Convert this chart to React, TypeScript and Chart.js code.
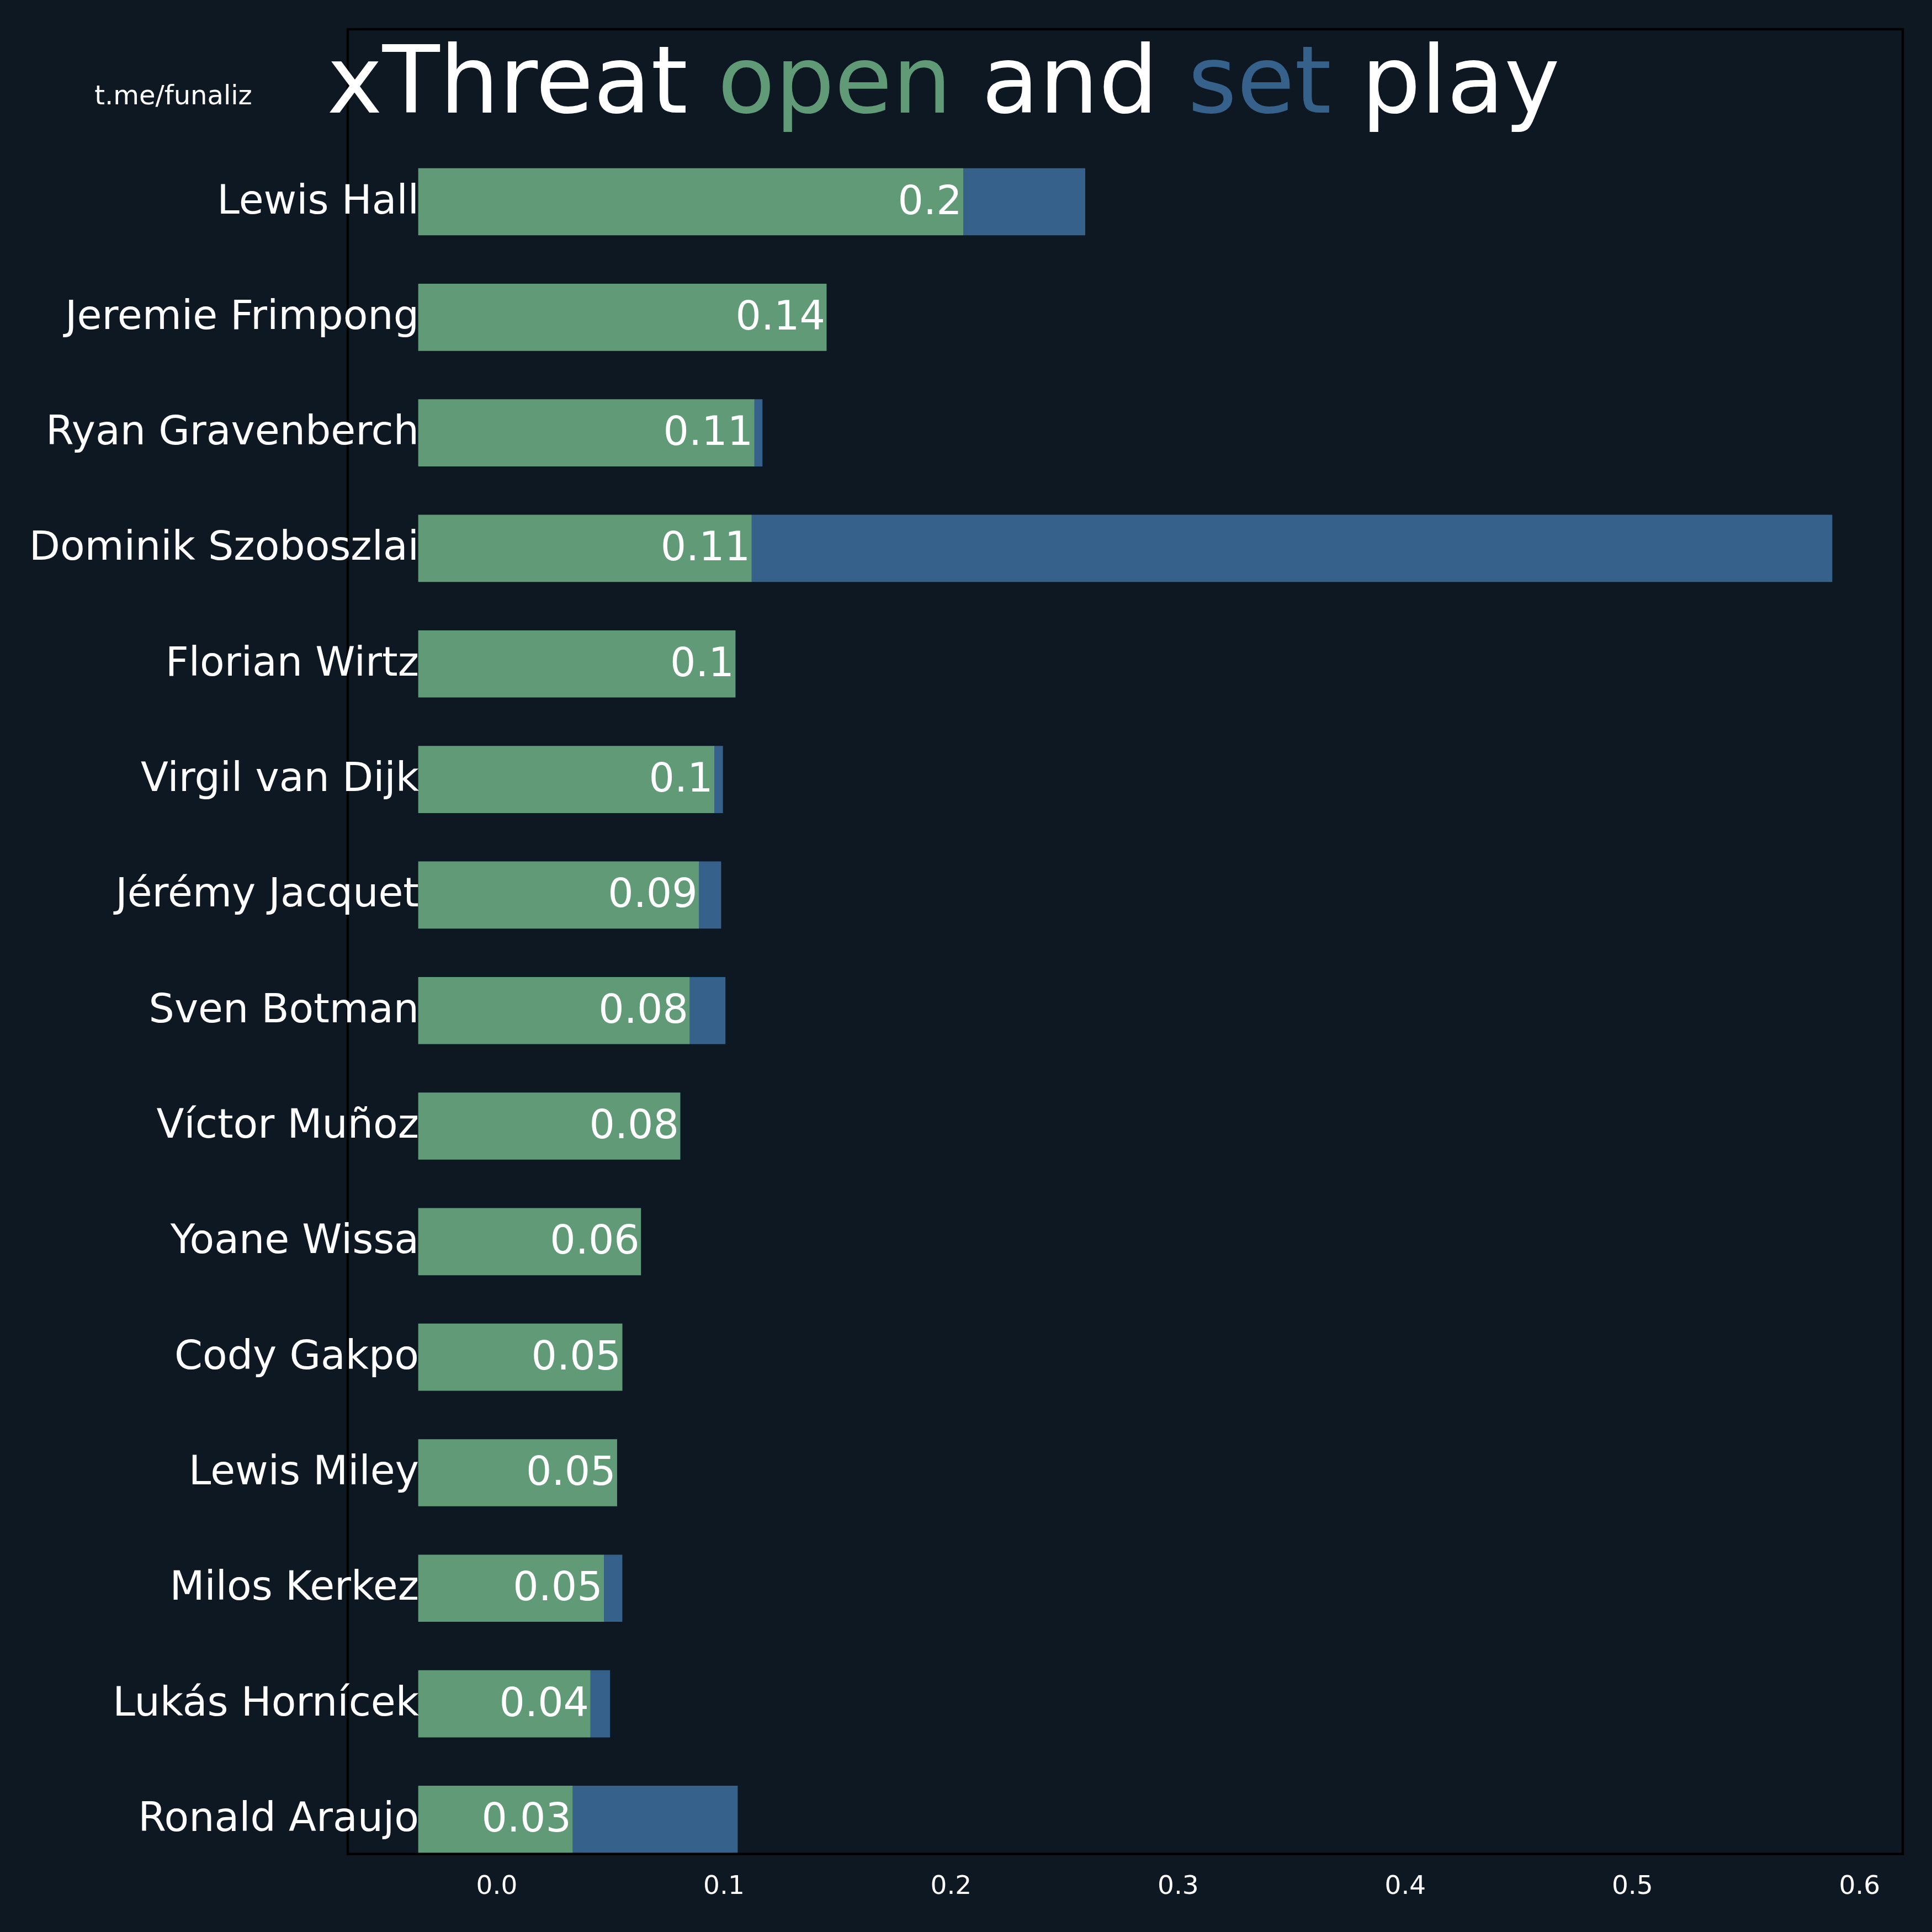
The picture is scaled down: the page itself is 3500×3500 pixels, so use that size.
import React, { useEffect, useRef } from 'react';
import { Chart, BarController, BarElement, LinearScale } from 'chart.js';

Chart.register(BarController, BarElement, LinearScale);

const players = [
  'Lewis Hall', 'Jeremie Frimpong', 'Ryan Gravenberch', 'Dominik Szoboszlai', 'Florian Wirtz',
  'Virgil van Dijk', 'Jérémy Jacquet', 'Sven Botman', 'Víctor Muñoz', 'Yoane Wissa',
  'Cody Gakpo', 'Lewis Miley', 'Milos Kerkez', 'Lukás Hornícek', 'Ronald Araujo',
];
const openPlay = [0.2053, 0.1451, 0.1133, 0.1121, 0.105, 0.0957, 0.0889, 0.0848, 0.0807, 0.0634, 0.0552, 0.0529, 0.0471, 0.0411, 0.0333];
const setPlay = [0.0537, 0, 0.0036, 0.4758, 0, 0.0038, 0.0098, 0.0158, 0, 0, 0, 0, 0.0081, 0.0087, 0.0727];
const openLabels = ['0.2', '0.14', '0.11', '0.11', '0.1', '0.1', '0.09', '0.08', '0.08', '0.06', '0.05', '0.05', '0.05', '0.04', '0.03'];
const xTicks = [0, 0.1, 0.2, 0.3, 0.4, 0.5, 0.6];

const BAR_START = -0.0345; // bars begin a bit left of the 0.0 tick in the original
const BG = '#0e1822';
const GREEN = '#619a76';
const BLUE = '#36618a';
const FONT = '"DejaVu Sans", sans-serif';

const titleParts: [string, string][] = [
  ['xThreat ', '#ffffff'],
  ['open', GREEN],
  [' and ', '#ffffff'],
  ['set', BLUE],
  [' play', '#ffffff'],
];

const overlay = {
  id: 'overlay',
  afterDatasetsDraw(chart: any) {
    const { ctx, chartArea: a, scales } = chart;
    const x = scales.x;
    const y = scales.y;
    ctx.save();

    // axes frame
    ctx.strokeStyle = '#000000';
    ctx.lineWidth = 4.4;
    ctx.strokeRect(a.left, a.top, a.right - a.left, a.bottom - a.top);

    // player names + open play values
    ctx.fillStyle = '#ffffff';
    ctx.textAlign = 'right';
    ctx.textBaseline = 'alphabetic';
    ctx.font = `73px ${FONT}`;
    const x0 = x.getPixelForValue(BAR_START);
    players.forEach((name, i) => {
      const cy = y.getPixelForValue(i);
      ctx.fillText(name, x0 + 1, cy + 21);
      ctx.fillText(openLabels[i], x.getPixelForValue(openPlay[i]) - 2, cy + 22);
    });

    // title in several colours
    ctx.font = `170px ${FONT}`;
    ctx.textAlign = 'left';
    const total = titleParts.reduce((s, [t]) => s + ctx.measureText(t).width, 0);
    let tx = 1709 - total / 2;
    titleParts.forEach(([t, c]) => {
      ctx.fillStyle = c;
      ctx.fillText(t, tx, 204);
      tx += ctx.measureText(t).width;
    });

    // watermark
    ctx.fillStyle = '#ffffff';
    ctx.font = `48px ${FONT}`;
    ctx.textAlign = 'center';
    ctx.fillText('t.me/funaliz', 314, 189);

    ctx.restore();
  },
};

export default function App() {
  const ref = useRef<HTMLCanvasElement | null>(null);

  useEffect(() => {
    if (!ref.current) return;
    const chart = new Chart(ref.current, {
      type: 'bar',
      data: {
        datasets: [
          {
            label: 'open',
            data: players.map((_, i) => ({ y: i, x: [BAR_START, openPlay[i]] })) as any,
            backgroundColor: GREEN,
            borderWidth: 0,
            grouped: false,
            barThickness: 121,
          },
          {
            label: 'set',
            data: players.map((_, i) => ({ y: i, x: [openPlay[i], openPlay[i] + setPlay[i]] })) as any,
            backgroundColor: BLUE,
            borderWidth: 0,
            grouped: false,
            barThickness: 121,
          },
        ],
      },
      options: {
        indexAxis: 'y',
        responsive: false,
        animation: false,
        devicePixelRatio: 1,
        events: [],
        layout: { padding: { left: 630, right: 53, top: 53, bottom: 41.3 } },
        plugins: { legend: { display: false }, tooltip: { enabled: false } },
        scales: {
          x: {
            type: 'linear',
            min: -0.0656,
            max: 0.619,
            grid: { display: false, drawTicks: false },
            border: { display: false },
            afterBuildTicks: (s: any) => {
              s.ticks = xTicks.map((v) => ({ value: v }));
            },
            afterFit: (s: any) => {
              s.height = 100;
            },
            ticks: {
              color: '#ffffff',
              padding: 32,
              maxRotation: 0,
              font: { family: FONT, size: 47 },
              callback: (v: any) => Number(v).toFixed(1),
            },
          },
          y: {
            type: 'linear',
            min: -1.493,
            max: 14.3,
            reverse: true,
            offset: false,
            display: false,
          },
        },
      } as any,
      plugins: [overlay],
    });
    return () => chart.destroy();
  }, []);

  return (
    <div style={{ position: 'fixed', left: 0, top: 0, width: 3500, height: 3500, background: BG }}>
      <canvas ref={ref} width={3500} height={3500} style={{ display: 'block' }} />
    </div>
  );
}
